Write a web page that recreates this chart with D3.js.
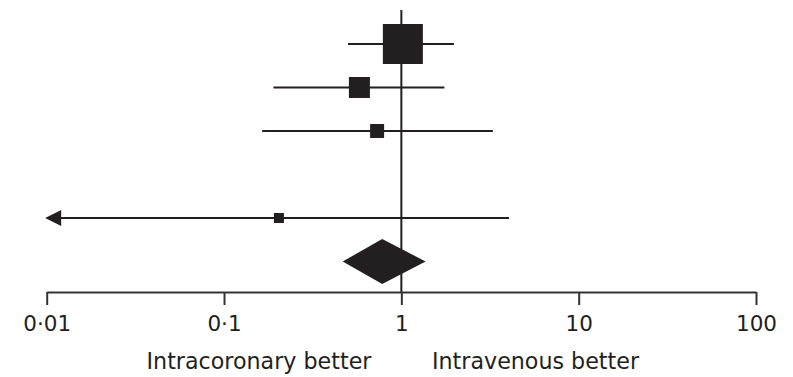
<!DOCTYPE html>
<html>
<head>
<meta charset="utf-8">
<script src="https://cdn.jsdelivr.net/npm/d3@7"></script>
<style>
  body { margin: 0; background: #fff; }
  text { font-family: "DejaVu Sans", sans-serif; fill: #231f20; }
</style>
</head>
<body>
<svg class="chart"></svg>
<script>
// rows of the plot, top to bottom ('gap' is an empty row)
const rows = ['study1', 'study2', 'study3', 'gap', 'study4', 'pooled'];

// per-study estimates (odds ratio with 95% CI) and weight (%)
const studies = ['study1', 'study2', 'study3', 'study4'];
const estimates = [1.02, 0.58, 0.73, 0.204];
const lower = [0.50, 0.19, 0.164, 0.005];
const upper = [1.98, 1.75, 3.28, 4.05];
const weights = [68.5, 18.9, 8.4, 4.3];

// pooled estimate
const pooled = { est: 0.78, lo: 0.467, hi: 1.37 };

const tickValues = [0.01, 0.1, 1, 10, 100];
const sideLabels = ['Intracoronary better', 'Intravenous better'];

const width = 793;
const height = 377;
const ink = '#231f20';

const svg = d3.select('.chart')
  .attr('width', width)
  .attr('height', height);

const x = d3.scaleLog()
  .domain([0.01, 100])
  .range([46.7, 756]);

const y = d3.scalePoint()
  .domain(rows)
  .range([44, 261.5]);

const size = d3.scaleSqrt()
  .domain([0, d3.max(weights)])
  .range([0, 40]);

const axisY = 292;

// line of no effect
svg.append('line')
  .attr('x1', x(1))
  .attr('x2', x(1))
  .attr('y1', 10)
  .attr('y2', axisY)
  .style('stroke', ink)
  .style('stroke-width', 2);

const data = studies.map((s, i) => ({
  row: s,
  est: estimates[i],
  lo: lower[i],
  hi: upper[i],
  w: weights[i],
}));

// confidence intervals
svg.selectAll('line.ci')
  .data(data)
  .enter()
  .append('line')
  .attr('class', 'ci')
  .attr('x1', d => (d.lo < 0.01 ? x(0.01) + 8 : x(d.lo)))
  .attr('x2', d => x(d.hi))
  .attr('y1', d => y(d.row))
  .attr('y2', d => y(d.row))
  .style('stroke', ink)
  .style('stroke-width', 2);

// arrow for intervals running off the scale
svg.selectAll('path.arrow')
  .data(data.filter(d => d.lo < 0.01))
  .enter()
  .append('path')
  .attr('class', 'arrow')
  .attr('d', (d) => {
    const tip = x(0.01) - 1.5;
    const cy = y(d.row);
    return `M${tip},${cy}L${tip + 16},${cy - 8}L${tip + 16},${cy + 8}Z`;
  })
  .style('fill', ink);

// weighted squares
svg.selectAll('rect.est')
  .data(data)
  .enter()
  .append('rect')
  .attr('class', 'est')
  .attr('x', d => x(d.est) - size(d.w) / 2)
  .attr('y', d => y(d.row) - size(d.w) / 2)
  .attr('width', d => size(d.w))
  .attr('height', d => size(d.w))
  .style('fill', ink);

// pooled diamond
const py = y('pooled');
svg.append('path')
  .attr('d', `M${x(pooled.lo)},${py}L${x(pooled.est)},${py - 22.5}L${x(pooled.hi)},${py}L${x(pooled.est)},${py + 22.5}Z`)
  .style('fill', ink);

// axis
const axis = d3.axisBottom(x)
  .tickValues(tickValues)
  .tickSize(13)
  .tickSizeOuter(0)
  .tickFormat(d => String(d).replace('.', '\u00b7'));

const g = svg.append('g')
  .attr('transform', `translate(0,${axisY})`)
  .call(axis);

g.select('.domain').style('stroke', '#333').style('stroke-width', 2);
g.selectAll('.tick line').style('stroke', '#333').style('stroke-width', 2);
g.selectAll('.tick text')
  .attr('y', 39)
  .attr('dy', null)
  .style('font-family', '"DejaVu Sans", sans-serif')
  .style('font-size', '21.5px')
  .style('fill', ink);

// direction labels
svg.selectAll('text.side')
  .data(sideLabels)
  .enter()
  .append('text')
  .attr('class', 'side')
  .attr('x', (d, i) => (i === 0 ? 259 : 535.5))
  .attr('y', 369)
  .attr('text-anchor', 'middle')
  .style('font-size', '22.2px')
  .text(d => d);
</script>
</body>
</html>
